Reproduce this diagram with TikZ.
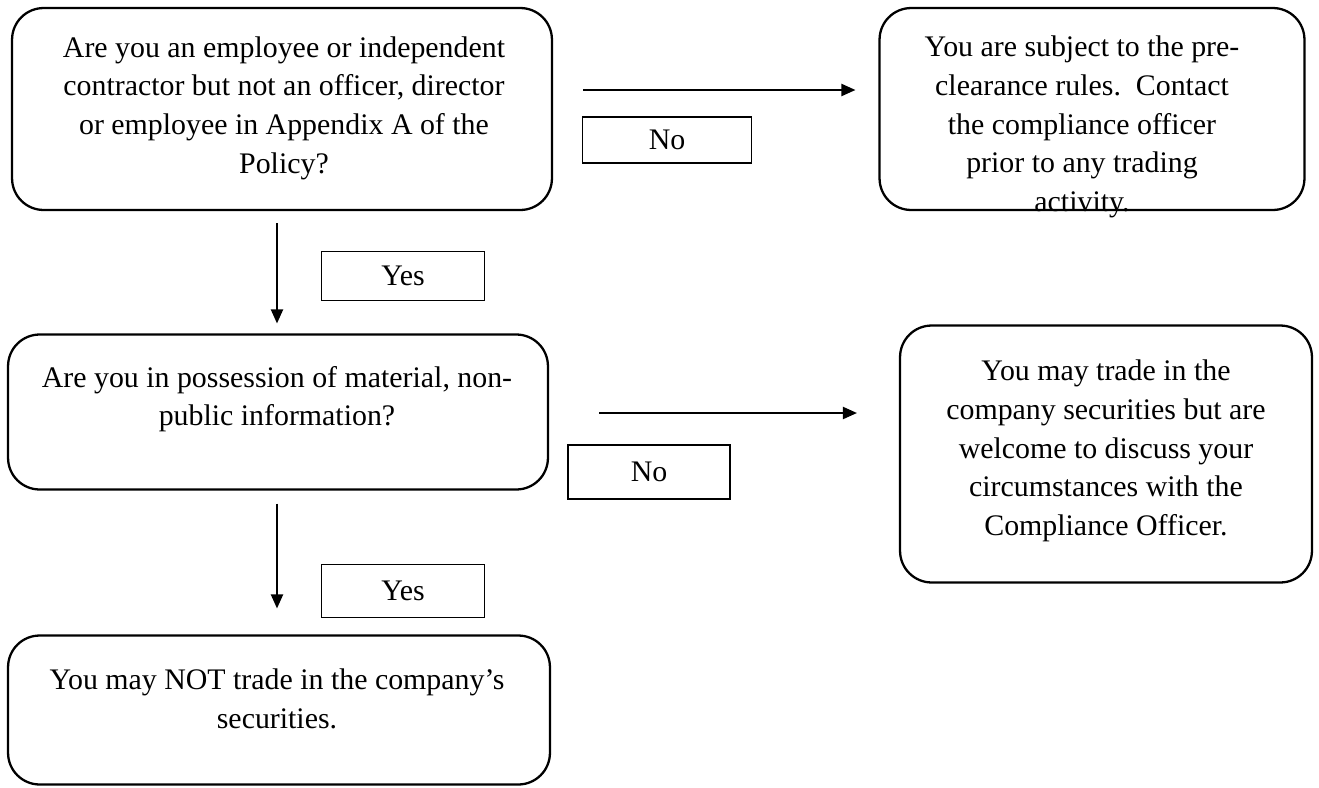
\documentclass[tikz,border=0pt]{standalone}
\usepackage{fontspec}
\setmainfont{Liberation Serif}
\usetikzlibrary{arrows.meta}

\tikzset{
  bigbox/.style={draw, line width=1.3pt, rounded corners=18pt, inner sep=0pt},
  boxtext/.style={align=center, font=\fontsize{17}{22}\selectfont, inner sep=0pt},
  answer/.style={draw, line width=1.1pt, inner sep=0pt, font=\fontsize{17}{22}\selectfont},
  arr/.style={line width=0.8pt, -{Triangle[length=8pt, width=7pt]}}
}

\begin{document}
\begin{tikzpicture}[x=0.02cm, y=-0.02cm]
  \useasboundingbox (0,0) rectangle (1319,788);

  % boxes
  \node[bigbox, minimum width=10.8cm, minimum height=4.04cm] (employee) at (282,109) {};
  \node[bigbox, minimum width=8.5cm, minimum height=4.04cm] (clearance) at (1092,109) {};
  \node[bigbox, minimum width=10.8cm, minimum height=3.1cm] (insider) at (278,412) {};
  \node[bigbox, minimum width=8.24cm, minimum height=5.14cm] (maytrade) at (1106,454) {};
  \node[bigbox, minimum width=10.84cm, minimum height=2.98cm] (notrade) at (279,710) {};

  % texts
  \node[boxtext] (employee-t) at (284,108) {Are you an employee or independent\\
    contractor but not an officer, director\\ or employee in Appendix A of the\\ Policy?};
  \node[boxtext] (clearance-t) at (1082,127) {You are subject to the pre-\\
    clearance rules.\ \ Contact\\ the compliance officer\\ prior to any trading\\ activity.};
  \node[boxtext] (insider-t) at (277,399) {Are you in possession of material, non-\\
    public information?};
  \node[boxtext] (maytrade-t) at (1106,451) {You may trade in the\\
    company securities but are\\ welcome to discuss your\\ circumstances with the\\
    Compliance Officer.};
  \node[boxtext] (notrade-t) at (277,699) {You may NOT trade in the company’s\\ securities.};

  % answers
  \node[answer, minimum width=3.38cm, minimum height=0.92cm] (no1) at (667,140) {No};
  \node[answer, minimum width=3.26cm, minimum height=0.98cm] (yes1) at (403,276) {Yes};
  \node[answer, minimum width=3.24cm, minimum height=1.08cm] (no2) at (649,472) {No};
  \node[answer, minimum width=3.26cm, minimum height=1.06cm] (yes2) at (403,591) {Yes};

  % arrows
  \draw[arr] ([shift={(30,-19)}]employee.east) -- ([shift={(-23,-19)}]clearance.west);
  \draw[arr] ([shift={(-5,12)}]employee.south) -- ([shift={(-1,-10)}]insider.north);
  \draw[arr] ([shift={(50,1)}]insider.east) -- ([shift={(-42,-41)}]maytrade.west);
  \draw[arr] ([shift={(-1,13)}]insider.south) -- ([shift={(-2,-26)}]notrade.north);
\end{tikzpicture}
\end{document}
